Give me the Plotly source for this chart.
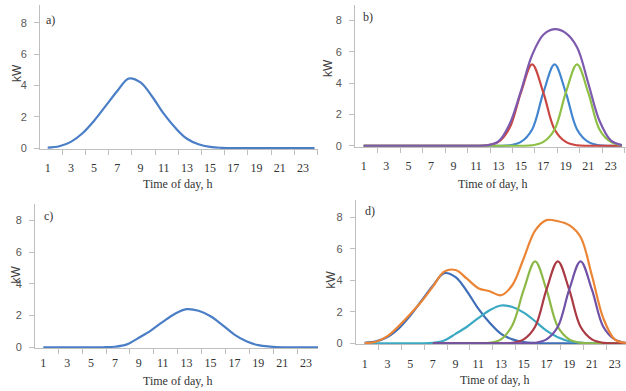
import plotly.graph_objects as go

W, H = 626, 391

hours = list(range(1, 25))
x_tick_labels = [str(h) for h in range(1, 24, 2)]
y_tick_vals = [0, 2, 4, 6, 8]

# a) and the blue series of d)
load_a = [0.03, 0.12, 0.4, 0.95, 1.75, 2.7, 3.65, 4.45, 4.2, 3.3, 2.2, 1.3,
          0.6, 0.25, 0.08, 0.02, 0, 0, 0, 0, 0, 0, 0, 0]
# c) and the cyan series of d)
load_c = [0, 0, 0, 0, 0, 0, 0.03, 0.18, 0.6, 1.05, 1.6, 2.1,
          2.4, 2.3, 1.95, 1.4, 0.8, 0.38, 0.13, 0.04, 0, 0, 0, 0]
# b)
b_red = [0, 0, 0, 0, 0, 0, 0, 0, 0, 0, 0, 0.03,
         0.25, 1.15, 3.4, 5.2, 3.4, 1.05, 0.25, 0.03, 0, 0, 0, 0]
b_blue = [0, 0, 0, 0, 0, 0, 0, 0, 0, 0, 0, 0,
          0, 0.03, 0.25, 1.05, 3.4, 5.2, 3.4, 1.05, 0.25, 0.03, 0, 0]
b_green = [0, 0, 0, 0, 0, 0, 0, 0, 0, 0, 0, 0,
           0, 0, 0, 0.03, 0.25, 1.05, 3.4, 5.2, 3.4, 1.05, 0.25, 0.03]
b_total = [0, 0, 0, 0, 0, 0, 0, 0, 0, 0, 0, 0.03,
           0.28, 1.4, 3.5, 5.8, 7.1, 7.45, 7.2, 6.3, 4.0, 1.6, 0.35, 0.05]
# d)
d_green = [None, None, None, None, None, None, 0, 0, 0, 0, 0, 0.03,
           0.25, 1.15, 3.4, 5.2, 3.4, 1.05, 0.25, 0.03, 0, 0, 0, 0]
d_red = [None, None, None, None, None, None, 0, 0, 0, 0, 0, 0,
         0, 0.03, 0.25, 1.05, 3.4, 5.2, 3.4, 1.05, 0.25, 0.03, 0, 0]
d_purple = [None, None, None, None, None, None, 0, 0, 0, 0, 0, 0,
            0, 0, 0, 0.03, 0.25, 1.05, 3.4, 5.2, 3.4, 1.05, 0.25, 0.03]
d_total = [0.02, 0.1, 0.45, 1.1, 1.85, 2.65, 3.6, 4.55, 4.65, 4.1, 3.5, 3.3,
           3.05, 3.7, 5.4, 7.15, 7.82, 7.75, 7.5, 6.75, 4.3, 1.6, 0.25, 0.02]

fig = go.Figure()

def px_x(p):
    return p / W

def px_y(p):
    return 1 - p / H

def line(y, color, xa, ya):
    fig.add_trace(go.Scatter(
        x=hours, y=y, mode="lines", xaxis=xa, yaxis=ya,
        line=dict(color=color, width=2.2, shape="spline", smoothing=1.0),
        connectgaps=False, showlegend=False, hoverinfo="skip"))

# panel a
line(load_a, "#4A7EC6", "x", "y")
# panel b
line(b_blue, "#4286CF", "x2", "y2")
line(b_red, "#CB4641", "x2", "y2")
line(b_green, "#8DC045", "x2", "y2")
line(b_total, "#7D5AAE", "x2", "y2")
# panel c
line(load_c, "#4A7EC6", "x3", "y3")
# panel d
line(load_a, "#3F6EB8", "x4", "y4")
line(load_c, "#3CA9C4", "x4", "y4")
line(d_green, "#8DB848", "x4", "y4")
line(d_red, "#AA3A44", "x4", "y4")
line(d_purple, "#7052A6", "x4", "y4")
line(d_total, "#EB8535", "x4", "y4")

axis_gray = "#BFBFBF"
serif = "Liberation Serif"
sans = "Liberation Sans"

def xaxis(dom_px, rng, anchor, standoff=8):
    return dict(
        domain=[px_x(dom_px[0]), px_x(dom_px[1])], range=rng, anchor=anchor,
        showline=True, linecolor=axis_gray, linewidth=1,
        showgrid=False, zeroline=False,
        tickmode="array", tickvals=list(range(1, 24, 2)), ticktext=x_tick_labels,
        ticks="", ticklabelstandoff=standoff,
        tickfont=dict(family=serif, size=12, color="#333333"),
        minor=dict(tickmode="array", tickvals=[2.25 + 2 * k for k in range(12)],
                   ticks="outside", ticklen=5, tickcolor=axis_gray, showgrid=False),
    )

def yaxis(dom_px, rng, anchor):
    return dict(
        domain=[px_y(dom_px[1]), px_y(dom_px[0])], range=rng, anchor=anchor,
        showline=True, linecolor=axis_gray, linewidth=1,
        showgrid=False, zeroline=False,
        tickmode="array", tickvals=y_tick_vals,
        ticks="outside", ticklen=5, tickcolor=axis_gray, ticklabelstandoff=5,
        tickfont=dict(family=sans, size=11, color="#595959"),
    )

fig.update_layout(
    width=W, height=H, margin=dict(l=0, r=0, t=0, b=0),
    paper_bgcolor="white", plot_bgcolor="white",
    xaxis=xaxis([40, 318], [0.336, 24.30], "y"),
    yaxis=yaxis([5, 151], [-0.06, 9.15], "x"),
    xaxis2=xaxis([355, 626], [0.225, 24.36], "y2"),
    yaxis2=yaxis([5, 148.7], [-0.06, 9.0], "x2"),
    xaxis3=xaxis([35, 318], [0.305, 24.0], "y3", standoff=3),
    yaxis3=yaxis([206.7, 352.7], [-0.06, 9.03], "x3"),
    xaxis4=xaxis([355.7, 626], [0.208, 24.0], "y4"),
    yaxis4=yaxis([203, 348.7], [-0.06, 9.07], "x4"),
)

def text(s, x, y, family, size, color="#333333", angle=0):
    fig.add_annotation(text=s, x=px_x(x), y=px_y(y), xref="paper", yref="paper",
                       showarrow=False, xanchor="center", yanchor="middle",
                       textangle=angle, font=dict(family=family, size=size, color=color))

# panel labels
text("a)", 50, 20, serif, 12)
text("b)", 368, 17, serif, 12)
text("c)", 48, 219, serif, 12)
text("d)", 370, 214, serif, 12)
# x titles
for cx, cy in [(178, 186), (492, 186), (177, 386), (494, 385)]:
    text("Time of day, h", cx, cy, serif, 12)
# y titles
for cx, cy in [(17, 74), (328, 69), (16, 278), (331, 283)]:
    text("kW", cx, cy, sans, 12, color="#404040", angle=-90)

fig.write_html("out.html",
               config={"displayModeBar": False},
               post_script="document.body.style.margin='0';document.body.style.overflow='hidden';")
